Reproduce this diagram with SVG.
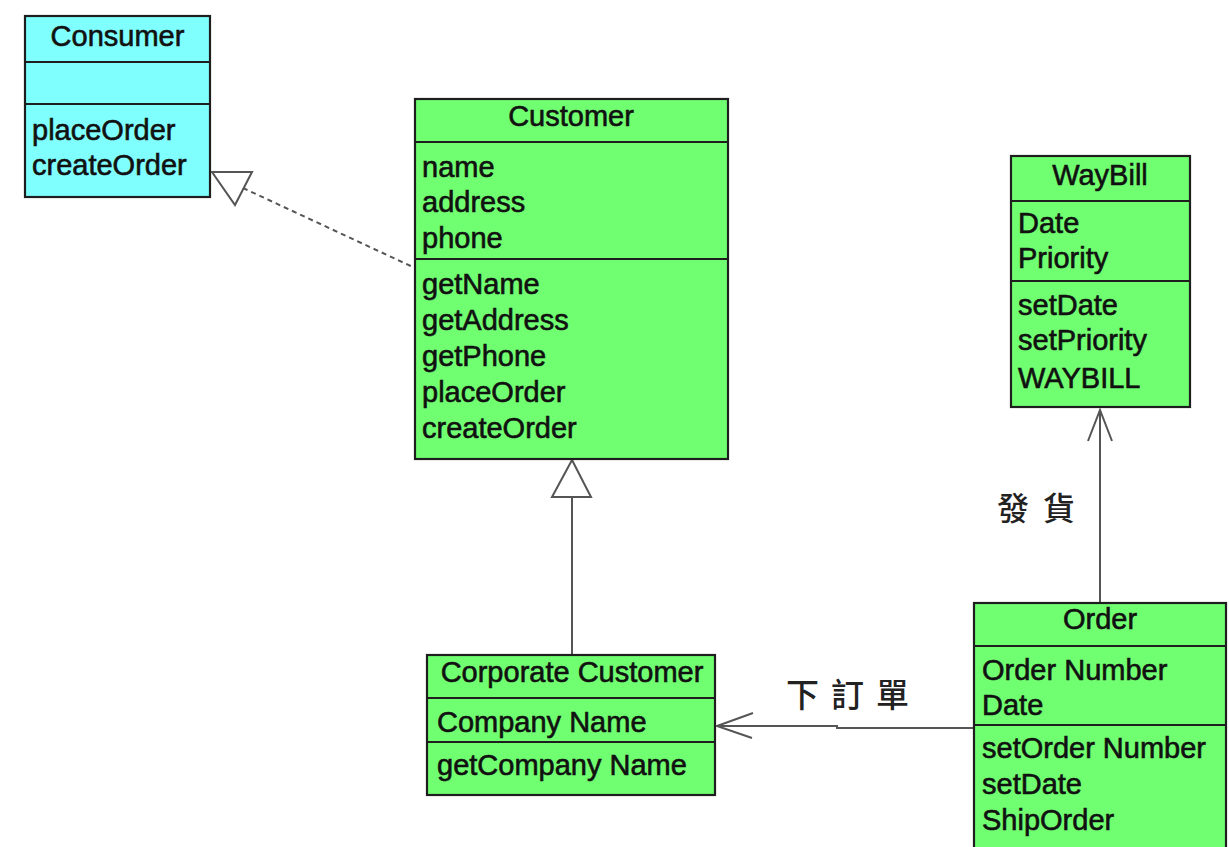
<svg xmlns="http://www.w3.org/2000/svg" width="1229" height="847" viewBox="0 0 1229 847">
  <style>
    .box { stroke: #1e1e1e; stroke-width: 2.2; }
    .cyan { fill: #80FFFF; }
    .green { fill: #70FF70; }
    .div { stroke: #1e1e1e; stroke-width: 2.2; fill: none; }
    .t { font-family: "Liberation Sans", Arial, sans-serif; font-size: 29px; fill: #111; stroke: #111; stroke-width: 0.6; }
    .title { text-anchor: middle; }
    .cjk { font-family: "Noto Sans CJK TC", "Noto Sans CJK SC", sans-serif; font-weight: 500; fill: #222; }
    .conn { stroke: #555; stroke-width: 2; fill: none; }
    .dash { stroke-dasharray: 5 4; }
  </style>
  <rect width="1229" height="847" fill="#ffffff"/>

  <g id="connectors">
    <!-- Customer realizes Consumer -->
    <line class="conn dash" x1="243" y1="188" x2="415" y2="268"/>
    <polygon class="conn" fill="#ffffff" points="212,172 252,172 235,205"/>
    <!-- Corporate Customer generalizes to Customer -->
    <line class="conn" x1="572" y1="497" x2="572" y2="655"/>
    <polygon class="conn" fill="#ffffff" points="572,460 552,497 591,497"/>
    <!-- Order ships WayBill -->
    <line class="conn" x1="1100" y1="410" x2="1100" y2="603"/>
    <polyline class="conn" points="1088,441 1100,410 1112,441"/>
    <text class="cjk" x="997" y="520" font-size="32" letter-spacing="14">發貨</text>
    <!-- Order placed by Corporate Customer -->
    <polyline class="conn" points="974,728 837,728 837,726 717,726"/>
    <polyline class="conn" points="753,713 717,726 752,738"/>
    <text class="cjk" x="786" y="707" font-size="33" letter-spacing="12">下訂單</text>
  </g>

  <g id="consumer">
    <rect class="box cyan" x="25" y="16" width="185" height="181"/>
    <line class="div" x1="25" y1="62" x2="210" y2="62"/>
    <line class="div" x1="25" y1="104" x2="210" y2="104"/>
    <text class="t title" x="117.5" y="46">Consumer</text>
    <text class="t" x="32" y="140">placeOrder</text>
    <text class="t" x="32" y="175">createOrder</text>
  </g>

  <g id="customer">
    <rect class="box green" x="415" y="99" width="313" height="360"/>
    <line class="div" x1="415" y1="142" x2="728" y2="142"/>
    <line class="div" x1="415" y1="259" x2="728" y2="259"/>
    <text class="t title" x="571" y="126">Customer</text>
    <text class="t" x="422" y="177">name</text>
    <text class="t" x="422" y="212">address</text>
    <text class="t" x="422" y="248">phone</text>
    <text class="t" x="422" y="294">getName</text>
    <text class="t" x="422" y="330">getAddress</text>
    <text class="t" x="422" y="366">getPhone</text>
    <text class="t" x="422" y="402">placeOrder</text>
    <text class="t" x="422" y="438">createOrder</text>
  </g>

  <g id="waybill">
    <rect class="box green" x="1011" y="156" width="179" height="251"/>
    <line class="div" x1="1011" y1="201" x2="1190" y2="201"/>
    <line class="div" x1="1011" y1="281" x2="1190" y2="281"/>
    <text class="t title" x="1100" y="185">WayBill</text>
    <text class="t" x="1018" y="233">Date</text>
    <text class="t" x="1018" y="268">Priority</text>
    <text class="t" x="1018" y="315">setDate</text>
    <text class="t" x="1018" y="350">setPriority</text>
    <text class="t" x="1018" y="388">WAYBILL</text>
  </g>

  <g id="corporate-customer">
    <rect class="box green" x="427" y="655" width="288" height="140"/>
    <line class="div" x1="427" y1="698" x2="715" y2="698"/>
    <line class="div" x1="427" y1="742" x2="715" y2="742"/>
    <text class="t title" x="572" y="682">Corporate Customer</text>
    <text class="t" x="437" y="732">Company Name</text>
    <text class="t" x="437" y="775">getCompany Name</text>
  </g>

  <g id="order">
    <rect class="box green" x="974" y="603" width="252" height="260"/>
    <line class="div" x1="974" y1="646" x2="1226" y2="646"/>
    <line class="div" x1="974" y1="725" x2="1226" y2="725"/>
    <text class="t title" x="1100" y="629">Order</text>
    <text class="t" x="982" y="680">Order Number</text>
    <text class="t" x="982" y="715">Date</text>
    <text class="t" x="982" y="758">setOrder Number</text>
    <text class="t" x="982" y="794">setDate</text>
    <text class="t" x="982" y="830">ShipOrder</text>
  </g>
</svg>
